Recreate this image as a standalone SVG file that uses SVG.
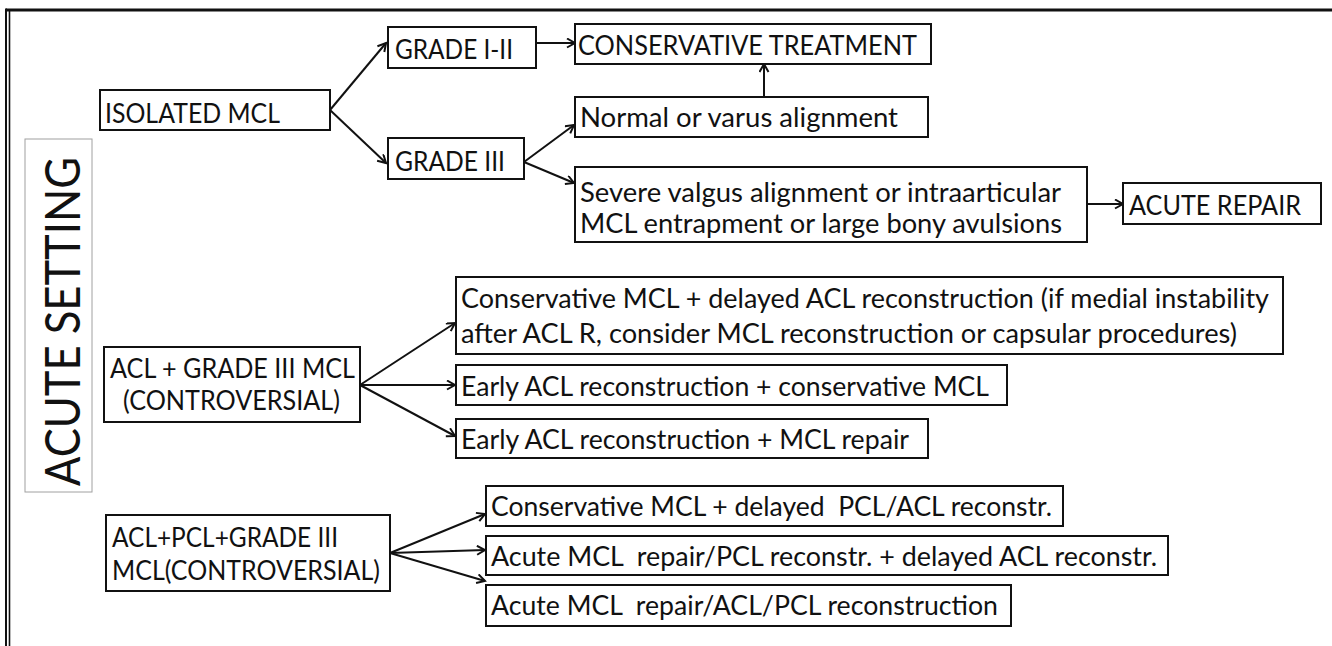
<svg xmlns="http://www.w3.org/2000/svg" width="1332" height="646" viewBox="0 0 1332 646">
<style>
.box{fill:#fff;stroke:#111;stroke-width:2}
.t{font-family:Lato,"Open Sans","Liberation Sans",sans-serif;font-size:26px;fill:#111}
.c{fill:none;stroke:#111;stroke-width:2;marker-end:url(#ah)}
.pre{white-space:pre}
</style>
<defs>
<marker id="ah" markerUnits="userSpaceOnUse" markerWidth="12" markerHeight="12" refX="9" refY="5" orient="auto">
<path d="M1,0.5 L9,5 L1,9.5" fill="none" stroke="#111" stroke-width="2"/>
</marker>
</defs>
<rect width="1332" height="646" fill="#fff"/>
<g id="frame">
<line x1="6" y1="10" x2="1332" y2="10" stroke="#111" stroke-width="3"/>
<line x1="6" y1="8.5" x2="6" y2="646" stroke="#111" stroke-width="2"/>
<line x1="9.5" y1="11" x2="9.5" y2="646" stroke="#111" stroke-width="1.6"/>
</g>
<g id="acute-setting">
<rect x="25" y="139" width="67" height="353" fill="#fff" stroke="#a0a0a0" stroke-width="1"/>
<text class="t" style="font-size:49px" transform="translate(80,486) rotate(-90)" textLength="329" lengthAdjust="spacingAndGlyphs">ACUTE SETTING</text>
</g>
<g id="connectors">
<line class="c" x1="330" y1="110" x2="386" y2="43"/>
<line class="c" x1="330" y1="110" x2="386" y2="163"/>
<line class="c" x1="536" y1="43" x2="575" y2="43"/>
<line class="c" x1="764" y1="97" x2="764" y2="64"/>
<line class="c" x1="524" y1="162" x2="574" y2="125"/>
<line class="c" x1="524" y1="162" x2="574" y2="183"/>
<line class="c" x1="1087" y1="204" x2="1123" y2="204"/>
<line class="c" x1="360" y1="385" x2="455" y2="323"/>
<line class="c" x1="360" y1="385" x2="455" y2="385"/>
<line class="c" x1="360" y1="385" x2="455" y2="436"/>
<line class="c" x1="390" y1="553" x2="485" y2="514"/>
<line class="c" x1="390" y1="553" x2="485" y2="550"/>
<line class="c" x1="390" y1="553" x2="485" y2="581"/>
</g>
<g id="isolated-mcl">
<rect class="box" x="100" y="90" width="230" height="40"/>
<text class="t" x="105" y="123" textLength="175" lengthAdjust="spacingAndGlyphs">ISOLATED MCL</text>
</g>
<g id="grade-i-ii">
<rect class="box" x="388" y="27" width="148" height="41"/>
<text class="t" x="395" y="59" textLength="118" lengthAdjust="spacingAndGlyphs">GRADE I-II</text>
</g>
<g id="conservative-treatment">
<rect class="box" x="575" y="24" width="356" height="40"/>
<text class="t" x="578" y="55" textLength="339" lengthAdjust="spacingAndGlyphs">CONSERVATIVE TREATMENT</text>
</g>
<g id="grade-iii">
<rect class="box" x="388" y="138" width="136" height="41"/>
<text class="t" x="395" y="171" textLength="110" lengthAdjust="spacingAndGlyphs">GRADE III</text>
</g>
<g id="normal-varus">
<rect class="box" x="575" y="97" width="353" height="40"/>
<text class="t" x="580" y="127" textLength="318" lengthAdjust="spacingAndGlyphs">Normal or varus alignment</text>
</g>
<g id="severe-valgus">
<rect class="box" x="575" y="167" width="512" height="75"/>
<text class="t" x="580" y="201.5" textLength="481" lengthAdjust="spacingAndGlyphs">Severe valgus alignment or intraarticular</text>
<text class="t" x="580" y="233" textLength="482" lengthAdjust="spacingAndGlyphs">MCL entrapment or large bony avulsions</text>
</g>
<g id="acute-repair">
<rect class="box" x="1123" y="183" width="198" height="41"/>
<text class="t" x="1129" y="215" textLength="172" lengthAdjust="spacingAndGlyphs">ACUTE REPAIR</text>
</g>
<g id="acl-grade-iii">
<rect class="box" x="104" y="347" width="256" height="75"/>
<text class="t" x="110" y="378" textLength="245" lengthAdjust="spacingAndGlyphs">ACL + GRADE III MCL</text>
<text class="t" x="123" y="410" textLength="217" lengthAdjust="spacingAndGlyphs">(CONTROVERSIAL)</text>
</g>
<g id="conservative-delayed-acl">
<rect class="box" x="456" y="277" width="827" height="77"/>
<text class="t" x="461" y="308" textLength="808" lengthAdjust="spacingAndGlyphs">Conservative MCL + delayed ACL reconstruction (if medial instability</text>
<text class="t" x="461" y="343" textLength="776" lengthAdjust="spacingAndGlyphs">after ACL R, consider MCL reconstruction or capsular procedures)</text>
</g>
<g id="early-acl-conservative">
<rect class="box" x="456" y="365" width="551" height="40"/>
<text class="t" x="461" y="396" textLength="528" lengthAdjust="spacingAndGlyphs">Early ACL reconstruction + conservative MCL</text>
</g>
<g id="early-acl-repair">
<rect class="box" x="456" y="419" width="472" height="39"/>
<text class="t" x="461" y="449" textLength="448" lengthAdjust="spacingAndGlyphs">Early ACL reconstruction + MCL repair</text>
</g>
<g id="acl-pcl-grade-iii">
<rect class="box" x="106" y="515" width="284" height="76"/>
<text class="t" x="112" y="547" textLength="226" lengthAdjust="spacingAndGlyphs">ACL+PCL+GRADE III</text>
<text class="t" x="112" y="580" textLength="268" lengthAdjust="spacingAndGlyphs">MCL(CONTROVERSIAL)</text>
</g>
<g id="conservative-delayed-pcl">
<rect class="box" x="486" y="486" width="577" height="40"/>
<text class="t pre" xml:space="preserve" x="491" y="516" textLength="561" lengthAdjust="spacingAndGlyphs">Conservative MCL + delayed  PCL/ACL reconstr.</text>
</g>
<g id="acute-repair-pcl">
<rect class="box" x="486" y="536" width="682" height="39"/>
<text class="t pre" xml:space="preserve" x="491" y="566" textLength="666" lengthAdjust="spacingAndGlyphs">Acute MCL  repair/PCL reconstr. + delayed ACL reconstr.</text>
</g>
<g id="acute-repair-acl-pcl">
<rect class="box" x="486" y="585" width="525" height="41"/>
<text class="t pre" xml:space="preserve" x="491" y="615" textLength="507" lengthAdjust="spacingAndGlyphs">Acute MCL  repair/ACL/PCL reconstruction</text>
</g>
</svg>
